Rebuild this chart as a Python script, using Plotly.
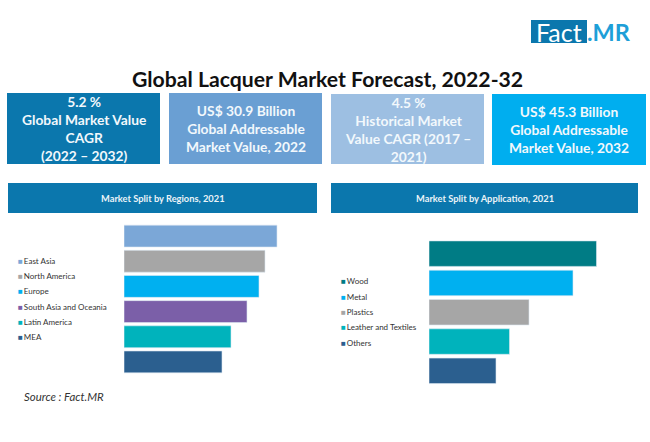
import plotly.graph_objects as go

W, H = 650, 442
FONT = "Lato"

regions = ["East Asia", "North America", "Europe", "South Asia and Oceania", "Latin America", "MEA"]
region_values = [153, 141, 135, 123, 107, 98]
region_colors = ["#7BA7D7", "#A6A6A6", "#00B0F0", "#7B5FA8", "#00B3BC", "#2B5F8F"]

applications = ["Wood", "Metal", "Plastics", "Leather and Textiles", "Others"]
application_values = [167.5, 144, 100, 80.5, 67]
application_colors = ["#007C85", "#00B0F0", "#A6A6A6", "#00B3BC", "#2B5F8F"]

kpi_texts = [
    "5.2 %<br>Global Market Value<br>CAGR<br>(2022 – 2032)",
    "US$ 30.9 Billion<br>Global Addressable<br>Market Value, 2022",
    "4.5 %<br>Historical Market<br>Value CAGR (2017 –<br>2021)",
    "US$ 45.3 Billion<br>Global Addressable<br>Market Value, 2032",
]
kpi_colors = ["#0B77AD", "#6A9FD3", "#9DBFE2", "#00AEEF"]
kpi_boxes = [(7, 93, 160, 164), (169, 93, 322, 164), (331, 94, 484, 164), (492, 94, 646, 165)]

header_texts = ["Market Split by Regions, 2021", "Market Split by Application, 2021"]
header_boxes = [(8, 183, 317, 213), (331, 183, 638, 213)]
HEADER_COLOR = "#0B77AD"


def px(x):
    return x / W


def py(y):
    return 1 - y / H


fig = go.Figure()
fig.add_trace(go.Bar(x=region_values, y=regions, orientation="h", xaxis="x", yaxis="y",
                     marker=dict(color=region_colors, line=dict(color="#DCE8F2", width=0.6)),
                     showlegend=False))
fig.add_trace(go.Bar(x=application_values, y=applications, orientation="h", xaxis="x2", yaxis="y2",
                     marker=dict(color=application_colors, line=dict(color="#DCE8F2", width=0.6)),
                     showlegend=False))

shapes, notes = [], []


def rect(box, color):
    x0, y0, x1, y1 = box
    shapes.append(dict(type="rect", xref="paper", yref="paper", x0=px(x0), x1=px(x1),
                       y0=py(y1), y1=py(y0), fillcolor=color, line=dict(width=0), layer="below"))


def note(x, y, text, size, color="#FFFFFF", anchor="center", **kw):
    notes.append(dict(x=px(x), y=py(y), xref="paper", yref="paper", text=text, showarrow=False,
                      xanchor=anchor, yanchor="middle", align=anchor,
                      font=dict(family=kw.pop("family", FONT), size=size, color=color), **kw))


for box, color, text in zip(kpi_boxes, kpi_colors, kpi_texts):
    rect(box, color)
    note((box[0] + box[2]) / 2, (box[1] + box[3]) / 2, f"<b>{text}</b>", 13.8, "#F2F8FC")

for box, text in zip(header_boxes, header_texts):
    rect(box, HEADER_COLOR)
    note((box[0] + box[2]) / 2, (box[1] + box[3]) / 2 + 0.5, f"<b>{text}</b>", 9.3, "#EAF3F8")

note(327, 79, "<b>Global Lacquer Market Forecast, 2022-32</b>", 21.2, "#111111")

rect((531, 20, 587, 43), "#0B77AD")
note(559, 32, "Fact", 25, "#FFFFFF")
note(608.5, 32, "<b>.MR</b>", 23.5, "#1E9FD8")

for i, (name, color) in enumerate(zip(regions, region_colors)):
    note(16, 260.7 + i * 15.3, f"<span style='color:{color}'>■</span>\u2009{name}", 8, "#333333", anchor="left")
for i, (name, color) in enumerate(zip(applications, application_colors)):
    note(339, 281.3 + i * 15.3, f"<span style='color:{color}'>■</span>\u2009{name}", 8, "#333333", anchor="left")

note(22, 396, "<i>Source : Fact.MR</i>", 11.4, "#333333", anchor="left")

hidden = dict(showgrid=False, zeroline=False, showticklabels=False, ticks="", showline=False)
fig.update_layout(
    width=W, height=H, margin=dict(l=0, r=0, t=0, b=0), autosize=False,
    paper_bgcolor="#FFFFFF", plot_bgcolor="rgba(0,0,0,0)",
    font=dict(family=FONT),
    bargap=0.13,
    xaxis=dict(domain=[px(124), px(284)], range=[0, 160], anchor="y", **hidden),
    yaxis=dict(domain=[py(374.5), py(223.5)], autorange="reversed", type="category", anchor="x", **hidden),
    xaxis2=dict(domain=[px(429), px(609)], range=[0, 180], anchor="y2", **hidden),
    yaxis2=dict(domain=[py(385.5), py(239)], autorange="reversed", type="category", anchor="x2", **hidden),
    shapes=shapes, annotations=notes, showlegend=False,
)
fig.write_html("out.html", post_script="document.body.style.margin='0';", config={"displayModeBar": False})
